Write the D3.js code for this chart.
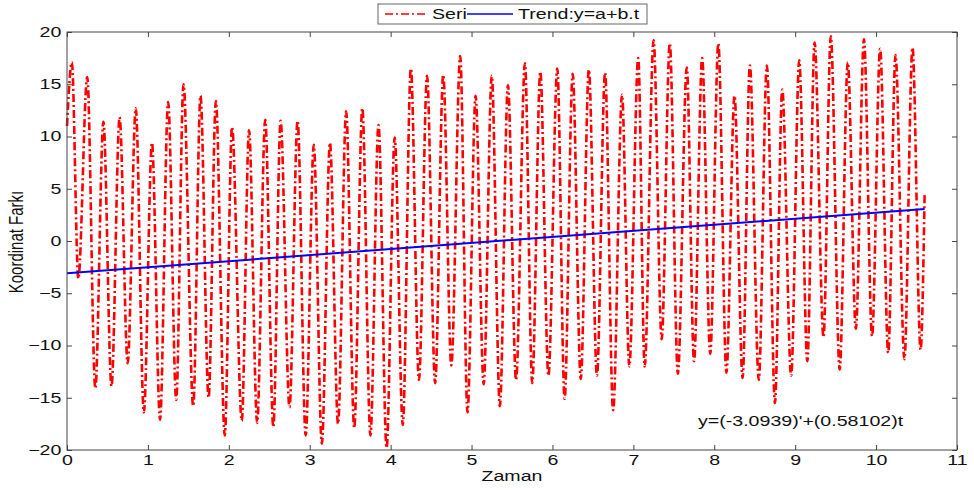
<!DOCTYPE html>
<html>
<head>
<meta charset="utf-8">
<script src="https://cdn.jsdelivr.net/npm/d3@7"></script>
<style>
  body { margin: 0; background: #fff; }
  svg text { font-family: "Liberation Sans", Arial, sans-serif; fill: #111; }
</style>
</head>
<body>
<div id="chart"></div>
<script>
// series: peaks and troughs of the oscillation
var seriesTime = [0.00, 0.06, 0.14, 0.25, 0.35, 0.45, 0.55, 0.65, 0.75, 0.85, 0.95,
    1.05, 1.15, 1.25, 1.35, 1.44, 1.56, 1.65, 1.75, 1.84, 1.95, 2.04, 2.16, 2.25, 2.35,
    2.45, 2.55, 2.64, 2.75, 2.85, 2.95, 3.05, 3.15, 3.25, 3.35, 3.45, 3.55, 3.65, 3.75,
    3.85, 3.95, 4.05, 4.15, 4.25, 4.35, 4.45, 4.55, 4.65, 4.75, 4.86, 4.95, 5.05, 5.15,
    5.25, 5.35, 5.45, 5.55, 5.66, 5.75, 5.85, 5.95, 6.06, 6.15, 6.25, 6.35, 6.45, 6.55,
    6.65, 6.75, 6.86, 6.95, 7.06, 7.14, 7.25, 7.35, 7.45, 7.55, 7.66, 7.75, 7.85, 7.95,
    8.05, 8.15, 8.25, 8.35, 8.44, 8.55, 8.65, 8.75, 8.84, 8.95, 9.05, 9.15, 9.24, 9.35,
    9.44, 9.55, 9.65, 9.75, 9.85, 9.95, 10.05, 10.15, 10.24, 10.35, 10.45, 10.55, 10.60];
var seriesValue = [11, 17.1, -3.6, 15.7, -14.1, 11.4, -13.9, 11.85, -11.7, 12.7, -16.4,
    9.4, -17.1, 13.3, -15.2, 15.0, -15.8, 13.9, -15.0, 13.4, -18.6, 10.9, -17.2, 10.6, -17.4,
    11.6, -17.8, 11.5, -15.9, 11.5, -18.6, 9.2, -19.4, 9.4, -17.5, 12.4, -17.9, 12.7, -18.6,
    11.1, -19.8, 9.9, -17.6, 16.5, -13.3, 15.8, -13.6, 15.9, -11.9, 17.7, -16.4, 13.9, -13.7,
    15.8, -15.8, 14.9, -13.3, 17.0, -13.6, 16.2, -12.9, 16.5, -15.1, 16.0, -13.2, 16.4, -12.9,
    16.1, -16.2, 14.0, -12.0, 17.5, -12.0, 19.2, -9.4, 18.9, -12.7, 16.6, -11.5, 17.5, -10.8,
    18.9, -12.6, 13.9, -13.1, 16.8, -13.3, 16.8, -15.5, 14.5, -12.9, 17.3, -11.5, 19.0, -9.2,
    19.6, -12.3, 17.1, -8.4, 19.3, -9.1, 18.4, -10.7, 17.8, -11.3, 18.5, -10.4, 4.6];

var trendTime = [0, 10.6];
var trendValue = [-3.0939, 3.0647];

var xTicks = [0, 1, 2, 3, 4, 5, 6, 7, 8, 9, 10, 11];
var yTicks = [-20, -15, -10, -5, 0, 5, 10, 15, 20];
var legendLabels = ['Seri', 'Trend:y=a+b.t'];
var equationLabel = "y=(-3.0939)'+(0.58102)t";

var width = 974, height = 491;
var box = {left: 67, right: 957, top: 32, bottom: 450};
var stretch = 1.4;     // text in the picture is wider than normal
var axisColor = '#444';

var svg = d3.select('#chart').append('svg')
            .attr('width', width)
            .attr('height', height);

var x = d3.scaleLinear().domain([0, 11]).range([box.left, box.right]);
var y = d3.scaleLinear().domain([-20, 20]).range([box.bottom, box.top]);

var addText = function addText(px, py, str, size, anchor) {
    return svg.append('text')
              .attr('transform', 'translate(' + px + ',' + py + ') scale(' + stretch + ',1)')
              .attr('text-anchor', anchor || 'start')
              .style('font-size', size + 'px')
              .text(str);
}

// lines first, box and ticks on top
var seriesData = seriesTime.map(function(t, i) { return [t, seriesValue[i]]; });
var trendData = trendTime.map(function(t, i) { return [t, trendValue[i]]; });

var line = d3.line()
             .x(function(d) { return x(d[0]); })
             .y(function(d) { return y(d[1]); });

svg.append('path')
   .datum(seriesData)
   .attr('d', line.curve(d3.curveMonotoneX))
   .attr('fill', 'none')
   .attr('stroke', '#ff0000')
   .attr('stroke-width', 2.6)
   .attr('stroke-dasharray', '8,3,2,3');

svg.append('path')
   .datum(trendData)
   .attr('d', line.curve(d3.curveLinear))
   .attr('fill', 'none')
   .attr('stroke', '#0000ff')
   .attr('stroke-width', 2);

svg.append('rect')
   .attr('x', box.left).attr('y', box.top)
   .attr('width', box.right - box.left).attr('height', box.bottom - box.top)
   .attr('fill', 'none')
   .attr('stroke', axisColor);

var styleAxis = function styleAxis(g) {
    g.select('.domain').remove();
    g.selectAll('.tick line').attr('stroke', axisColor);
    g.selectAll('.tick text')
     .attr('fill', '#111')
     .style('font-size', '14px')
     .style('font-family', '"Liberation Sans", Arial, sans-serif');
}

svg.append('g')
   .attr('transform', 'translate(0,' + box.bottom + ')')
   .call(d3.axisBottom(x).tickValues(xTicks).tickSizeInner(-5).tickSizeOuter(0).tickPadding(5))
   .call(styleAxis)
   .selectAll('.tick text').attr('transform', 'scale(' + stretch + ',1)');

svg.append('g')
   .attr('transform', 'translate(0,' + box.top + ')')
   .call(d3.axisTop(x).tickValues(xTicks).tickSizeInner(-5).tickSizeOuter(0).tickFormat(''))
   .call(styleAxis);

svg.append('g')
   .attr('transform', 'translate(' + box.left + ',0)')
   .call(d3.axisLeft(y).tickValues(yTicks).tickSizeInner(-5).tickSizeOuter(0).tickPadding(4))
   .call(styleAxis)
   .selectAll('.tick text').attr('transform', 'scale(' + stretch + ',1)');

svg.append('g')
   .attr('transform', 'translate(' + box.right + ',0)')
   .call(d3.axisRight(y).tickValues(yTicks).tickSizeInner(-5).tickSizeOuter(0).tickFormat(''))
   .call(styleAxis);

// axis titles
addText((box.left + box.right) / 2, 481, 'Zaman', 14, 'middle');
svg.append('text')
   .attr('transform', 'translate(23,242) scale(' + stretch + ',1) rotate(-90)')
   .attr('text-anchor', 'middle')
   .style('font-size', '15px')
   .text('Koordinat Farkı');

// equation annotation
addText(698, 426, equationLabel, 14);

// legend
var legend = svg.append('g');
legend.append('rect')
      .attr('x', 378).attr('y', 4).attr('width', 269).attr('height', 20)
      .attr('fill', '#fff').attr('stroke', '#666');
legend.append('line')
      .attr('x1', 385).attr('x2', 427).attr('y1', 14).attr('y2', 14)
      .attr('stroke', '#ff0000').attr('stroke-width', 1.3)
      .attr('stroke-dasharray', '8,3,2,3');
legend.append('line')
      .attr('x1', 467).attr('x2', 513).attr('y1', 14).attr('y2', 14)
      .attr('stroke', '#0000ff').attr('stroke-width', 1.3);
addText(432, 19, legendLabels[0], 14);
addText(518, 19, legendLabels[1], 14);
</script>
</body>
</html>
